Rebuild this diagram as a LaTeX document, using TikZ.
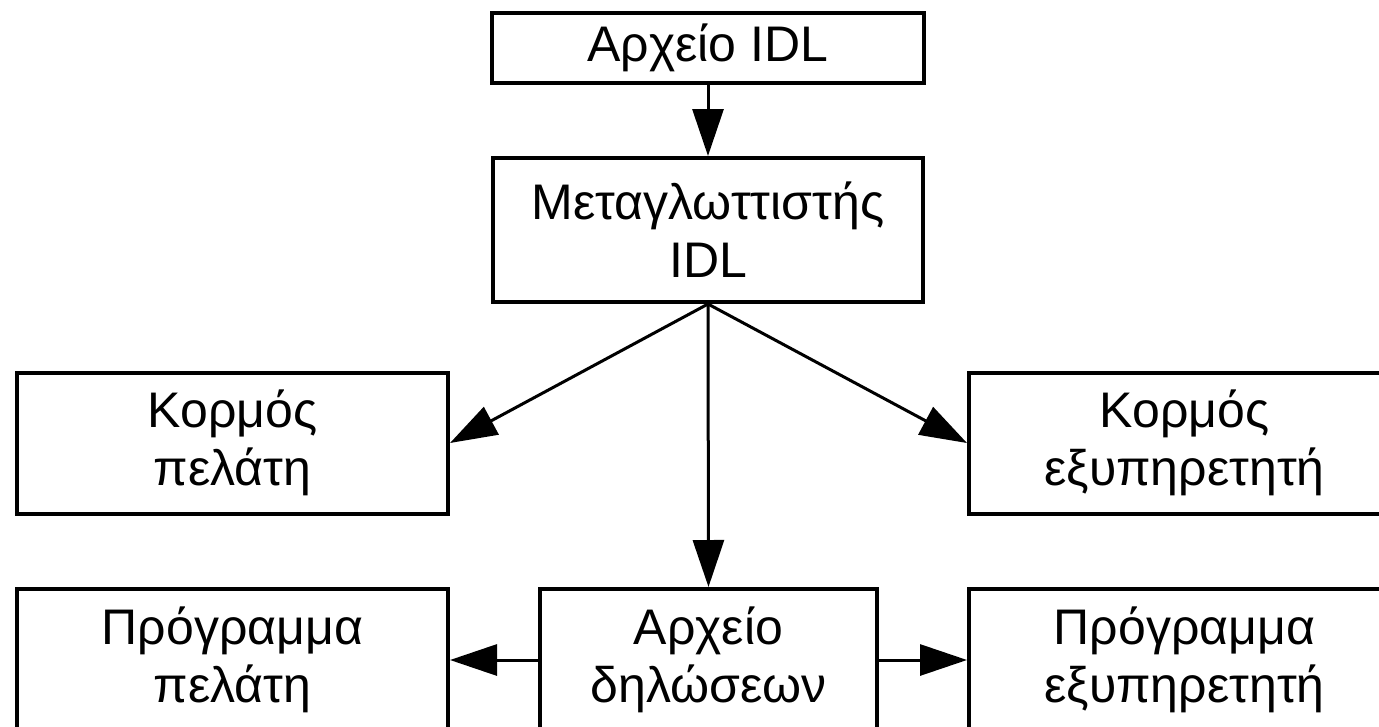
\documentclass[tikz,border=0pt]{standalone}
\usepackage{fontspec}
\setmainfont{Liberation Sans}
\usetikzlibrary{arrows.meta}
\begin{document}
\begin{tikzpicture}[x=1pt,y=-1pt,
  box/.style={draw=black, line width=4pt, rectangle, align=center,
    inner sep=0pt, font=\fontsize{50}{58}\selectfont},
  arr/.style={draw=black, line width=3pt,
    -{Triangle[length=47pt,width=31pt]}}]
  \clip (0,0) rectangle (1379,726);

  % top chain
  \node[box, minimum width=432pt, minimum height=70pt] (idl) at (708,48) {Αρχείο IDL};
  \node[box, minimum width=430pt, minimum height=144pt] (comp) at (708,230) {Μεταγλωττιστής\\IDL};

  % stubs
  \node[box, minimum width=431pt, minimum height=141pt] (stubc) at (232.5,443) {Κορμός\\πελάτη};
  \node[box, minimum width=431pt, minimum height=141pt] (stubs) at (1184.5,443) {Κορμός\\εξυπηρετητή};

  % bottom row
  \node[box, minimum width=431pt, minimum height=142pt] (progc) at (232.5,660) {Πρόγραμμα\\πελάτη};
  \node[box, minimum width=337pt, minimum height=142pt] (hdr) at (708.5,660) {Αρχείο\\δηλώσεων};
  \node[box, minimum width=431pt, minimum height=142pt] (progs) at (1184.5,660) {Πρόγραμμα\\εξυπηρετητή};

  % connectors
  \draw[arr] (idl.south) -- (comp.north);
  \draw[arr] (comp.south) -- (stubc.east);
  \draw[arr] (comp.south) -- (stubs.west);
  \draw[arr] (comp.south) -- (hdr.north);
  \draw[arr] (hdr.west) -- (progc.east);
  \draw[arr] (hdr.east) -- (progs.west);
\end{tikzpicture}
\end{document}
